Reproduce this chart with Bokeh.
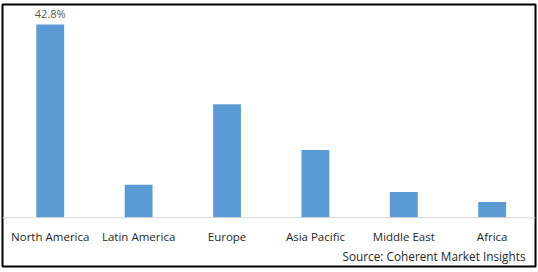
from bokeh.plotting import figure
from bokeh.models import ColumnDataSource, Span, Label, FactorRange, Range1d
from bokeh.core.properties import value
from bokeh.transform import dodge
from bokeh.embed import file_html
from bokeh.resources import INLINE

categories = ["North America", "Latin America", "Europe", "Asia Pacific", "Middle East", "Africa"]
shares = [42.8, 7.3, 25.1, 15.0, 5.7, 3.5]
value_labels = ["42.8%", "", "", "", "", ""]
source_text = "Source: Coherent Market Insights"

src = ColumnDataSource(dict(cat=categories, val=shares, lbl=value_labels, zero=[0] * len(categories)))

xr = FactorRange(factors=categories, range_padding=0.015, range_padding_units="absolute")
p = figure(width=538, height=272, output_backend="svg", toolbar_location=None,
           x_range=xr, y_range=Range1d(-10.8, 47.2),
           min_border_left=2, min_border_right=3, min_border_top=4, min_border_bottom=6)
p.xaxis.visible = False
p.yaxis.visible = False
p.xgrid.visible = False
p.ygrid.visible = False
p.outline_line_color = "black"
p.outline_line_width = 2
p.background_fill_color = "white"
p.border_fill_color = "white"

xs = dodge("cat", 0.025, range=xr)
p.add_layout(Span(location=0, dimension="width", line_color="#d9d9d9", line_width=1))
p.vbar(x=xs, top="val", bottom=0, width=0.315, source=src, fill_color="#5B9BD5", line_color=None)

p.text(x=xs, y="val", text="lbl", source=src, text_align="center", text_baseline="bottom",
       y_offset=-3, text_font=value("Open Sans"), text_font_size="11px", text_color="#595959")
p.text(x=xs, y="zero", text="cat", source=src, text_align="center", text_baseline="middle",
       y_offset=19, text_font=value("Open Sans"), text_font_size="11.5px", text_color="#262626")

p.add_layout(Label(x=523, y=11, x_units="screen", y_units="screen", text=source_text,
                   text_align="right", text_baseline="middle", text_font="Open Sans",
                   text_font_size="11.8px", text_color="#262626"))

open("out.html", "w").write(file_html(p, INLINE))
